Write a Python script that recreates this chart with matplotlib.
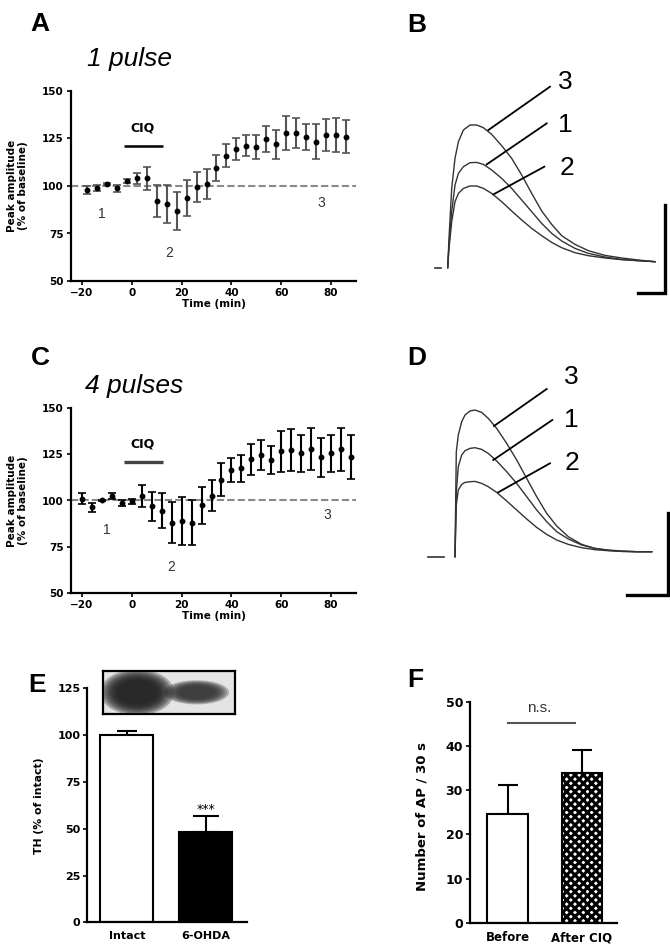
import matplotlib.pyplot as plt
from matplotlib.patches import Ellipse

plt.rcParams['font.family'] = ['DejaVu Sans']
plt.rcParams['hatch.linewidth'] = 2.2

W, H = 670, 946
ARIAL = ['Liberation Sans', 'DejaVu Sans']

# A: 1 pulse time course
time_a = [-18, -14, -10, -6, -2, 2, 6, 10, 14, 18, 22, 26, 30, 34,
          38, 42, 46, 50, 54, 58, 62, 66, 70, 74, 78, 82, 86]
amp_a = [97.9, 98.8, 101.0, 98.8, 102.8, 104.0, 104.0, 92.0, 90.7, 86.9,
         93.5, 99.4, 100.9, 109.6, 116.0, 119.5, 121.2, 120.5, 124.6, 121.9,
         128.1, 127.7, 125.6, 123.4, 126.8, 126.8, 126.0]
sem_a = [2.0, 1.5, 0.5, 1.8, 1.0, 2.8, 6.1, 8.5, 10.0, 9.8, 9.4, 7.9, 8.0, 6.8,
         5.9, 5.7, 5.6, 6.1, 6.8, 7.7, 8.9, 7.9, 6.9, 9.0, 8.6, 9.0, 8.8]

# C: 4 pulses time course
time_c = [-20, -16, -12, -8, -4, 0, 4, 8, 12, 16, 20, 24, 28, 32,
          36, 40, 44, 48, 52, 56, 60, 64, 68, 72, 76, 80, 84, 88]
amp_c = [101.0, 96.3, 100.0, 102.5, 98.5, 99.5, 102.5, 96.8, 94.4, 88.1,
         89.0, 88.1, 97.4, 102.7, 111.2, 116.6, 117.3, 122.3, 124.7, 122.0,
         126.5, 127.4, 125.6, 127.7, 123.4, 125.6, 127.7, 123.4]
sem_c = [3.0, 2.5, 0.5, 1.5, 1.5, 1.5, 5.8, 8.0, 9.5, 11.0, 13.0, 12.4, 10.0, 8.3,
         8.8, 6.5, 7.5, 8.3, 8.0, 7.5, 11.3, 11.3, 10.0, 11.3, 10.5, 10.0, 11.7, 12.0]

# B: example traces (1 pulse) (a.u.)
trace_t_b = [0, 1.3, 4, 7.3, 10.7, 15.7, 22.3, 29, 35.7, 44, 54, 64, 74, 84,
             94, 104, 114, 127.3, 140.7, 157.3, 174, 190.7, 207.3]
trace_b3 = [0, 29.3, 79.3, 109.3, 126, 137.7, 142.7, 142.7, 140, 133.3, 122, 109.3,
            92.7, 74.3, 56.7, 43.3, 32, 23.3, 17, 12.3, 9.7, 7.7, 6]
trace_b1 = [0, 22.7, 56, 82.7, 94.3, 101, 105, 105.3, 103.3, 97.7, 89.3, 79.3,
            67.7, 56, 44.3, 34.3, 26.7, 19.3, 14.3, 10.7, 8.3, 7, 6]
trace_b2 = [0, 19.3, 46, 66, 74.3, 79.3, 81.7, 81.7, 79.3, 74.3, 66, 56.7,
            47.7, 39.3, 32, 25.3, 20, 15, 12, 9.7, 8, 7, 6]

# D: example traces (4 pulses)
trace_t_d = [0, 1.3, 3.3, 6.7, 10, 15, 20, 26.7, 33.3, 41.7, 51.7, 61.7, 71.7,
             81.7, 91.7, 101.7, 113.3, 126.7, 140, 153.3, 166.7, 181.7, 196.7]
trace_d3 = [0, 105, 121.7, 135, 141.7, 145.7, 146.7, 144.3, 138.3, 128.3, 113.3, 96.7,
            78.3, 60, 43.3, 30.7, 20, 12.3, 8.3, 6.3, 5.3, 5, 5]
trace_d1 = [0, 65, 90, 101.7, 106, 108.3, 109, 107.3, 103.3, 95.7, 85, 73.3,
            60, 46.7, 35, 25, 17.7, 11.7, 8.3, 6.7, 5.7, 5, 5]
trace_d2 = [0, 51.7, 66.7, 72.3, 74.3, 75, 75.3, 73.3, 70, 64.3, 55.7, 46.7,
            37.7, 29.3, 22.3, 16.7, 12.3, 9, 7, 6, 5.3, 5, 5]

# E: TH western blot quantification
groups_e = ['Intact', '6-OHDA']
th_mean = [100.0, 48.5]
th_sem = [2.3, 8.4]

# F: AP count
groups_f = ['Before', 'After CIQ']
ap_mean = [24.6, 33.8]
ap_sem = [6.6, 5.3]


def px_axes(fig, left, top, right, bottom):
    return fig.add_axes([left / W, 1 - bottom / H, (right - left) / W, (bottom - top) / H])


def style_spines(ax, lw=1.6):
    for s in ['top', 'right']:
        ax.spines[s].set_visible(False)
    for s in ['left', 'bottom']:
        ax.spines[s].set_linewidth(lw)


def bold_ticks(ax):
    for lab in ax.get_xticklabels() + ax.get_yticklabels():
        lab.set_fontweight('bold')


def time_course(ax, t, amp, sem, ecolor, cue_color, cue_lw, nums):
    ax.axhline(100, color='#8a8a8a', ls=(0, (3.5, 1.5)), lw=1.5, zorder=1)
    ax.errorbar(t, amp, yerr=sem, fmt='o', ms=3.2, color='black', ecolor=ecolor,
                elinewidth=1.5, capsize=2.6, capthick=1.2, zorder=3)
    ax.set_xlim(-24.4, 90)
    ax.set_ylim(50, 150)
    ax.set_xticks([-20, 0, 20, 40, 60, 80])
    ax.set_yticks([50, 75, 100, 125, 150])
    style_spines(ax)
    ax.tick_params(direction='out', length=3, width=1.2, labelsize=7.5, pad=2)
    bold_ticks(ax)
    ax.set_ylabel('Peak amplitude\n(% of baseline)', fontsize=7.5, fontweight='bold',
                  linespacing=1.15)
    ax.yaxis.set_label_coords(-0.15, 0.5)
    ax.set_xlabel('Time (min)', fontsize=7.5, fontweight='bold', labelpad=1)
    ax.plot([-3, 12.5], [121, 121], color=cue_color, lw=cue_lw, solid_capstyle='butt')
    ax.text(4.5, 130.5, 'CIQ', ha='center', va='center', fontsize=9, fontweight='bold')
    for label, (x, y) in zip(['1', '2', '3'], nums):
        ax.text(x, y, label, ha='center', va='center', fontsize=10, color='#333333',
                family=ARIAL)


def traces(ax, t, tr3, tr1, tr2, stub, leaders, nums, scale):
    for tr in (tr3, tr1, tr2):
        ax.plot(t, tr, color='#333333', lw=1.0)
    ax.plot(stub, [0, 0], color='#333333', lw=1.2)
    for (x0, y0, x1, y1) in leaders:
        ax.plot([x0, x1], [y0, y1], color='black', lw=1.3)
    for label, (x, y) in zip(['3', '1', '2'], nums):
        ax.text(x, y, label, ha='center', va='center', fontsize=19, family=ARIAL)
    hx0, hx1, y0, y1 = scale
    ax.plot([hx0, hx1, hx1], [y0, y0, y1], color='black', lw=2.4, clip_on=False,
            solid_joinstyle='miter')
    ax.axis('off')


def panel_letter(fig, x, y, s):
    fig.text(x / W, 1 - y / H, s, fontsize=19, fontweight='bold', ha='center',
             va='center', family=ARIAL)


fig = plt.figure(figsize=(W / 100, H / 100), dpi=100)

# ---- A ----
ax_a = px_axes(fig, 71, 91, 356, 281)
time_course(ax_a, time_a, amp_a, sem_a, '#555555', 'black', 1.8,
            [(-12, 85.5), (15, 64.5), (76, 91)])
panel_letter(fig, 40, 24, 'A')
fig.text(87 / W, 1 - 59 / H, '1 pulse', fontsize=19, style='italic', ha='left',
         va='center', family=ARIAL)

# ---- C ----
ax_c = px_axes(fig, 71, 408, 356, 593)
time_course(ax_c, time_c, amp_c, sem_c, 'black', '#444444', 2.4,
            [(-10, 84), (16, 64), (78.5, 92)])
panel_letter(fig, 40, 358, 'C')
fig.text(85 / W, 1 - 386 / H, '4 pulses', fontsize=19, style='italic', ha='left',
         va='center', family=ARIAL)

# ---- B ----
ax_b = px_axes(fig, 420, 60, 670, 300)
ax_b.set_xlim(-27.7, 222.3)
ax_b.set_ylim(-32.3, 207.7)
traces(ax_b, trace_t_b, trace_b3, trace_b1, trace_b2, [-12.7, -6.7],
       [(40.7, 137.7, 102.3, 181), (39, 103.3, 99, 144.3), (45.7, 73.3, 96.6, 101)],
       [(117.3, 186), (117.3, 143), (119, 100)],
       (190, 217.3, -25.6, 62.7))
panel_letter(fig, 417, 25, 'B')

# ---- D ----
ax_d = px_axes(fig, 415, 345, 672, 605)
ax_d.set_xlim(-40, 217)
ax_d.set_ylim(-48.3, 211.7)
traces(ax_d, trace_t_d, trace_d3, trace_d1, trace_d2, [-27.3, -10.7],
       [(39, 130.7, 91.7, 167.7), (38.3, 96.7, 97.3, 136.7), (43.3, 64.4, 95, 93.4)],
       [(116.7, 180), (116.7, 136.7), (116.7, 93.4)],
       (171.7, 213.3, -38.3, 43.4))
panel_letter(fig, 417, 358, 'D')

# ---- E ----
ax_e = px_axes(fig, 87.3, 688.3, 246.7, 922.3)
xe = [0, 1]
ax_e.bar(xe, th_mean, width=0.67, color=['white', 'black'], edgecolor='black', lw=1.5,
         zorder=2)
for x, m, s, cs in zip(xe, th_mean, th_sem, [7, 9.5]):
    ax_e.errorbar([x], [m], yerr=[[0], [s]], fmt='none', ecolor='black', elinewidth=1.5,
                  capsize=cs, capthick=1.5, zorder=1)
ax_e.text(1, 60.5, '***', ha='center', va='center', fontsize=9)
ax_e.set_xlim(-0.5, 1.52)
ax_e.set_ylim(0, 125)
ax_e.set_yticks([0, 25, 50, 75, 100, 125])
ax_e.set_xticks(xe)
ax_e.set_xticklabels(groups_e)
style_spines(ax_e)
ax_e.tick_params(axis='y', direction='out', length=3, width=1.2, labelsize=8, pad=2)
ax_e.tick_params(axis='x', length=0, labelsize=8, pad=6)
bold_ticks(ax_e)
ax_e.set_ylabel('TH (% of intact)', fontsize=7.8, fontweight='bold')
ax_e.yaxis.set_label_coords(-0.27, 0.5)
panel_letter(fig, 37, 685, 'E')

# blot inset
ax_blot = px_axes(fig, 102.7, 670.7, 235, 714)
ax_blot.set_facecolor('#e4e4e4')
ax_blot.set_xlim(0, 1)
ax_blot.set_ylim(0, 1)
ax_blot.set_xticks([])
ax_blot.set_yticks([])
for s in ax_blot.spines.values():
    s.set_linewidth(1.6)
for k in [1.12, 1.04, 0.96, 0.88, 0.8, 0.72, 0.62]:
    ax_blot.add_patch(Ellipse((0.26, 0.5), 0.5 * k, 0.95 * k, color='#1a1a1a',
                              alpha=0.3, lw=0))
    ax_blot.add_patch(Ellipse((0.71, 0.5), 0.44 * k, 0.5 * k, color='#2e2e2e',
                              alpha=0.28, lw=0))

# ---- F ----
ax_f = px_axes(fig, 470, 701.7, 616.7, 922.7)
xf = [0, 1]
ax_f.bar([0], [ap_mean[0]], width=0.54, color='white', edgecolor='black', lw=1.5, zorder=2)
ax_f.bar([1], [ap_mean[1]], width=0.54, color='white', edgecolor='black', hatch='xxxx',
         lw=0, zorder=2)
ax_f.bar([1], [ap_mean[1]], width=0.54, color='none', edgecolor='black', lw=1.5, zorder=3)
ax_f.errorbar(xf, ap_mean, yerr=[[0, 0], ap_sem], fmt='none', ecolor='black',
              elinewidth=1.5, capsize=7.2, capthick=1.5, zorder=1)
ax_f.plot([0, 0.91], [45.2, 45.2], color='#555555', lw=1.5)
ax_f.text(0.43, 48.6, 'n.s.', ha='center', va='center', fontsize=11, color='#333333',
          family=ARIAL)
ax_f.set_xlim(-0.505, 1.47)
ax_f.set_ylim(0, 50)
ax_f.set_yticks([0, 10, 20, 30, 40, 50])
ax_f.set_xticks(xf)
ax_f.set_xticklabels(groups_f)
style_spines(ax_f)
ax_f.tick_params(axis='y', direction='out', length=3, width=1.2, labelsize=9, pad=2)
ax_f.tick_params(axis='x', length=0, labelsize=8.5, pad=6)
bold_ticks(ax_f)
ax_f.set_ylabel('Number of AP / 30 s', fontsize=9.5, fontweight='bold')
ax_f.yaxis.set_label_coords(-0.285, 0.48)
panel_letter(fig, 415, 680, 'F')

fig.savefig('out.png', dpi=100)
